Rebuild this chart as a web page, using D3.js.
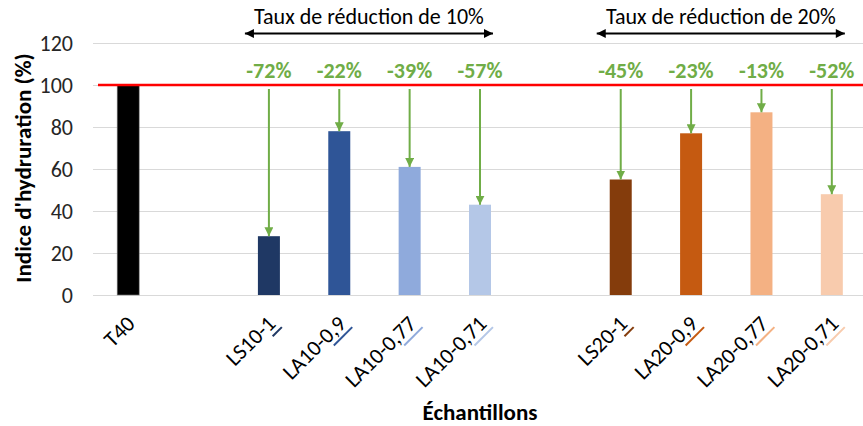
<!DOCTYPE html>
<html>
<head>
<meta charset="utf-8">
<script src="https://cdn.jsdelivr.net/npm/d3@7"></script>
<style>
  html, body { margin: 0; padding: 0; background: #fff; }
  svg { display: block; }
  text { font-family: Calibri, Carlito, Lato, "Open Sans", sans-serif; }
</style>
</head>
<body>
<svg id="chart" width="863" height="426"></svg>
<script>
// ---- data ----
const categories = ["T40", "LS10-1", "LA10-0,9", "LA10-0,77", "LA10-0,71", "LS20-1", "LA20-0,9", "LA20-0,77", "LA20-0,71"];
const values = [100, 28, 78, 61, 43, 55, 77, 87, 48];
const reductions = ["", "-72%", "-22%", "-39%", "-57%", "-45%", "-23%", "-13%", "-52%"];
const barColors = ["#000000", "#1F3864", "#2F5597", "#8FAADC", "#B4C7E7", "#843C0C", "#C55A11", "#F4B183", "#F8CBAD"];
const group10 = ["LS10-1", "LA10-0,9", "LA10-0,77", "LA10-0,71"];
const group20 = ["LS20-1", "LA20-0,9", "LA20-0,77", "LA20-0,71"];
const groupLabels = ["Taux de réduction de 10%", "Taux de réduction de 20%"];
const yTicks = [0, 20, 40, 60, 80, 100, 120];
const referenceValue = 100;
const yTitle = "Indice d'hydruration (%)";
const xTitle = "Échantillons";

// ---- layout ----
const svg = d3.select("#chart");
const domain = ["T40", "gap1", ...group10, "gap2", ...group20];
const x = d3.scaleBand().domain(domain).range([93, 867]).padding(0);
const y = d3.scaleLinear().domain([0, 120]).range([295, 43]);
const barW = 22;
const green = "#70AD47";

const defs = svg.append("defs");
defs.append("marker").attr("id", "gArrow").attr("viewBox", "0 0 10 10")
  .attr("refX", 10).attr("refY", 5).attr("markerWidth", 4.5).attr("markerHeight", 4.5)
  .attr("markerUnits", "strokeWidth").attr("orient", "auto")
  .append("path").attr("d", "M0,0 L10,5 L0,10 Z").attr("fill", green);
defs.append("marker").attr("id", "kArrow").attr("viewBox", "0 0 10 10")
  .attr("refX", 10).attr("refY", 5).attr("markerWidth", 5).attr("markerHeight", 4.5)
  .attr("markerUnits", "strokeWidth").attr("orient", "auto-start-reverse")
  .append("path").attr("d", "M0,0 L10,5 L0,10 Z").attr("fill", "#000");

// gridlines
svg.append("g").selectAll("line").data(yTicks).join("line")
  .attr("x1", 93).attr("x2", 863)
  .attr("y1", d => Math.round(y(d)) + 0.5).attr("y2", d => Math.round(y(d)) + 0.5)
  .attr("stroke", "#D9D9D9").attr("stroke-width", 1);

// y axis labels
const yAxis = d3.axisLeft(y).tickValues(yTicks).tickSize(0).tickPadding(0);
const yg = svg.append("g").attr("transform", "translate(73,0)").call(yAxis);
yg.select(".domain").remove();
yg.selectAll("text").attr("font-size", 22).attr("fill", "#262626")
  .attr("font-family", "Calibri, Carlito, Lato, sans-serif").attr("dy", "0.36em");

// bars
const cx = c => x(c) + x.bandwidth() / 2;
svg.append("g").selectAll("rect").data(categories).join("rect")
  .attr("x", d => cx(d) - barW / 2)
  .attr("width", barW)
  .attr("y", (d, i) => y(values[i]))
  .attr("height", (d, i) => y(0) - y(values[i]))
  .attr("fill", (d, i) => barColors[i])
  .attr("stroke", (d, i) => i === 0 ? "#7F7F7F" : "none")
  .attr("stroke-width", 0.6);

// reference line
svg.append("line").attr("x1", 98).attr("x2", 863)
  .attr("y1", y(referenceValue)).attr("y2", y(referenceValue))
  .attr("stroke", "#FF0000").attr("stroke-width", 2.5);

// green arrows + labels
const red = categories.map((c, i) => ({ c, v: values[i], r: reductions[i] })).filter(d => d.r);
svg.append("g").selectAll("line").data(red).join("line")
  .attr("x1", d => cx(d.c)).attr("x2", d => cx(d.c))
  .attr("y1", y(referenceValue) + 4).attr("y2", d => y(d.v))
  .attr("stroke", green).attr("stroke-width", 2)
  .attr("marker-end", "url(#gArrow)");
svg.append("g").selectAll("text").data(red).join("text")
  .attr("x", d => cx(d.c)).attr("y", 78)
  .attr("text-anchor", "middle").attr("font-size", 22).attr("font-weight", "bold")
  .attr("fill", green).text(d => d.r);

// group arrows
[group10, group20].forEach((g, i) => {
  const x1 = cx(g[0]) - 26, x2 = cx(g[g.length - 1]) + 15;
  svg.append("line").attr("x1", x1 + 2).attr("x2", x2 - 2).attr("y1", 33.5).attr("y2", 33.5)
    .attr("stroke", "#000").attr("stroke-width", 2)
    .attr("marker-start", "url(#kArrow)").attr("marker-end", "url(#kArrow)");
  svg.append("text").attr("x", (x1 + x2) / 2).attr("y", 24)
    .attr("text-anchor", "middle").attr("font-size", 22).attr("fill", "#000")
    .text(groupLabels[i]);
});

// x labels
const xl = svg.append("g").selectAll("g").data(categories).join("g")
  .attr("transform", d => `translate(${cx(d) + 8},325) rotate(-45)`);
xl.append("text").attr("text-anchor", "end").attr("font-size", 22).attr("fill", "#000").text(d => d);
xl.filter((d, i) => i > 0).append("line")
  .attr("x1", d => d.startsWith("LS") ? -11 : -24).attr("x2", 2)
  .attr("y1", 5).attr("y2", 5)
  .attr("stroke", (d, i) => barColors[i + 1]).attr("stroke-width", 2);

// axis titles
svg.append("text").attr("transform", "translate(31,168) rotate(-90)")
  .attr("text-anchor", "middle").attr("font-size", 23).attr("font-weight", "bold")
  .attr("fill", "#000").text(yTitle);
svg.append("text").attr("x", 480).attr("y", 420)
  .attr("text-anchor", "middle").attr("font-size", 23).attr("font-weight", "bold")
  .attr("fill", "#000").text(xTitle);
</script>
</body>
</html>
